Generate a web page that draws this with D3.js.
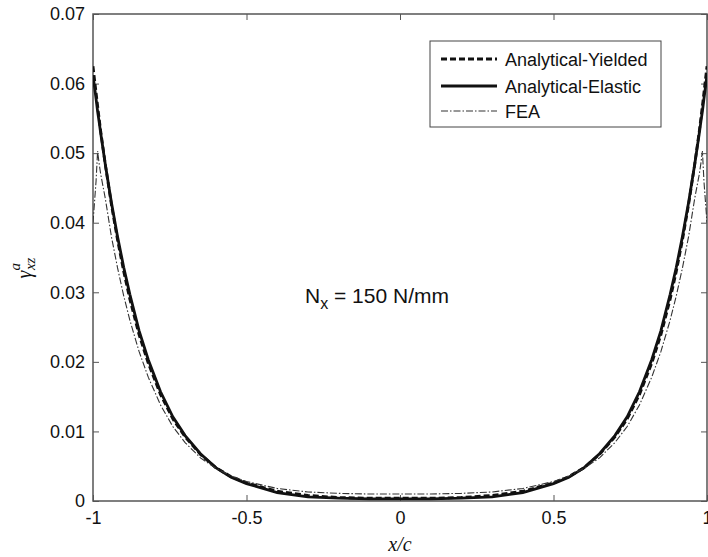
<!DOCTYPE html>
<html><head><meta charset="utf-8">
<script src="https://cdn.jsdelivr.net/npm/d3@7"></script>
<style>body{margin:0;background:#fff}svg{display:block}text{font-family:"Liberation Sans",Arial,sans-serif}</style>
</head><body><svg id="c" width="708" height="557"></svg>
<script>
const xs = [-1,-0.99,-0.985,-0.98,-0.975,-0.96,-0.94,-0.92,-0.9,-0.88,-0.85,-0.82,-0.78,-0.74,-0.7,-0.65,-0.6,-0.55,-0.5,-0.4,-0.3,-0.2,-0.1,0,
            0.1,0.2,0.3,0.4,0.5,0.55,0.6,0.65,0.7,0.74,0.78,0.82,0.85,0.88,0.9,0.92,0.94,0.96,0.975,0.98,0.985,0.99,1];
const yielded = [0.0625,0.0587,0.0568,0.055,0.0532,0.0484,0.0426,0.0375,0.033,0.029,0.0239,0.0198,0.0153,0.0118,0.0092,0.0067,0.0048,0.0035,0.0026,0.0014,0.0008,0.0005,0.0004,0.0004,
                 0.0004,0.0005,0.0008,0.0014,0.0026,0.0035,0.0048,0.0067,0.0092,0.0118,0.0153,0.0198,0.0239,0.029,0.033,0.0375,0.0426,0.0484,0.0532,0.055,0.0568,0.0587,0.0625];
const elastic = [0.0612,0.0578,0.056,0.0545,0.0529,0.0484,0.0429,0.038,0.0336,0.0297,0.0245,0.0203,0.0157,0.0121,0.0094,0.0068,0.0048,0.0034,0.0025,0.0012,0.0006,0.0004,0.0003,0.0003,
                 0.0003,0.0004,0.0006,0.0012,0.0025,0.0034,0.0048,0.0068,0.0094,0.0121,0.0157,0.0203,0.0245,0.0297,0.0336,0.038,0.0429,0.0484,0.0529,0.0545,0.056,0.0578,0.0612];
const fea = [0.040,0.046,0.0503,0.0485,0.047,0.0435,0.038,0.0335,0.0295,0.026,0.0215,0.0178,0.0138,0.0107,0.0084,0.0062,0.0047,0.0036,0.0028,0.0018,0.0013,0.0011,0.001,0.001,
             0.001,0.0011,0.0013,0.0018,0.0028,0.0036,0.0047,0.0062,0.0084,0.0107,0.0138,0.0178,0.0215,0.026,0.0295,0.0335,0.038,0.0435,0.047,0.0485,0.0503,0.046,0.040];
const xTicks = [-1,-0.5,0,0.5,1];
const xTickLabels = ["-1","-0.5","0","0.5","1"];
const yTicks = [0,0.01,0.02,0.03,0.04,0.05,0.06,0.07];
const yTickLabels = ["0","0.01","0.02","0.03","0.04","0.05","0.06","0.07"];
const seriesNames = ["Analytical-Yielded","Analytical-Elastic","FEA"];

const L=93,R=707,T=14,B=501;
const svg=d3.select("#c");
const x=d3.scaleLinear().domain([-1,1]).range([L,R]);
const y=d3.scaleLinear().domain([0,0.07]).range([B,T]);
const axc="#555";

svg.append("defs").append("clipPath").attr("id","pc").append("rect").attr("x",L).attr("y",T).attr("width",R-L).attr("height",B-T);

function styleAxis(g){g.select(".domain").remove();g.selectAll("line").attr("stroke",axc);g.selectAll("text").attr("fill","#111").style("font-size","18px").style("font-family","Liberation Sans, Arial, sans-serif");}
svg.append("g").attr("transform",`translate(0,${B})`).call(d3.axisBottom(x).tickValues(xTicks).tickFormat((d,i)=>xTickLabels[i]).tickSizeInner(-6).tickSizeOuter(0).tickPadding(10)).call(styleAxis);
svg.append("g").attr("transform",`translate(0,${T})`).call(d3.axisTop(x).tickValues(xTicks).tickFormat("").tickSizeInner(-6).tickSizeOuter(0)).call(styleAxis);
svg.append("g").attr("transform",`translate(${L},0)`).call(d3.axisLeft(y).tickValues(yTicks).tickFormat((d,i)=>yTickLabels[i]).tickSizeInner(-6).tickSizeOuter(0).tickPadding(8)).call(styleAxis);
svg.append("g").attr("transform",`translate(${R},0)`).call(d3.axisRight(y).tickValues(yTicks).tickFormat("").tickSizeInner(-6).tickSizeOuter(0)).call(styleAxis);
svg.append("rect").attr("x",L).attr("y",T).attr("width",R-L).attr("height",B-T).attr("fill","none").attr("stroke",axc).attr("stroke-width",1.5);

const line=d3.line().x((d,i)=>x(xs[i])).y(d=>y(d));
const plot=svg.append("g").attr("clip-path","url(#pc)");
const styles=[
 {w:2.8,dash:"6,3",col:"#111"},
 {w:2.8,dash:null,col:"#111"},
 {w:1.1,dash:"7,2,1.5,2",col:"#333"}];
[yielded,elastic,fea].forEach((s,k)=>{
  plot.append("path").datum(s).attr("d",line).attr("fill","none").attr("stroke",styles[k].col)
   .attr("stroke-width",styles[k].w).attr("stroke-dasharray",styles[k].dash);
});

// legend
const lg=svg.append("g");
lg.append("rect").attr("x",430).attr("y",41).attr("width",231).attr("height",86).attr("fill","#fff").attr("stroke","#444").attr("stroke-width",1);
const rows=[59,86,111];
seriesNames.forEach((n,k)=>{
  lg.append("line").attr("x1",441).attr("x2",497).attr("y1",rows[k]).attr("y2",rows[k]).attr("stroke",styles[k].col)
    .attr("stroke-width",styles[k].w).attr("stroke-dasharray",styles[k].dash);
  lg.append("text").attr("x",505).attr("y",rows[k]+6.5).text(n).style("font-size","18px").attr("fill","#111");
});

// annotation
const an=svg.append("text").attr("x",305).attr("y",303).style("font-size","21px").attr("fill","#111");
an.append("tspan").text("N");
an.append("tspan").attr("dy",6).style("font-size","16px").text("x");
an.append("tspan").attr("dy",-6).text(" = 150 N/mm");

// x label
svg.append("text").attr("x",400).attr("y",551).attr("text-anchor","middle").style("font-family","Liberation Serif, Times New Roman, serif").style("font-style","italic").style("font-size","20px").attr("fill","#111").text("x/c");

// y label
const yl=svg.append("text").attr("transform","translate(31,268) rotate(-90)").attr("text-anchor","middle").style("font-family","Liberation Serif, Times New Roman, serif").style("font-style","italic").style("font-size","20px").attr("fill","#111");
yl.append("tspan").text("γ");
yl.append("tspan").attr("dy",-11).style("font-size","15px").text("a");
yl.append("tspan").attr("dx",-7).attr("dy",15).style("font-size","15px").text("xz");
</script></body></html>
